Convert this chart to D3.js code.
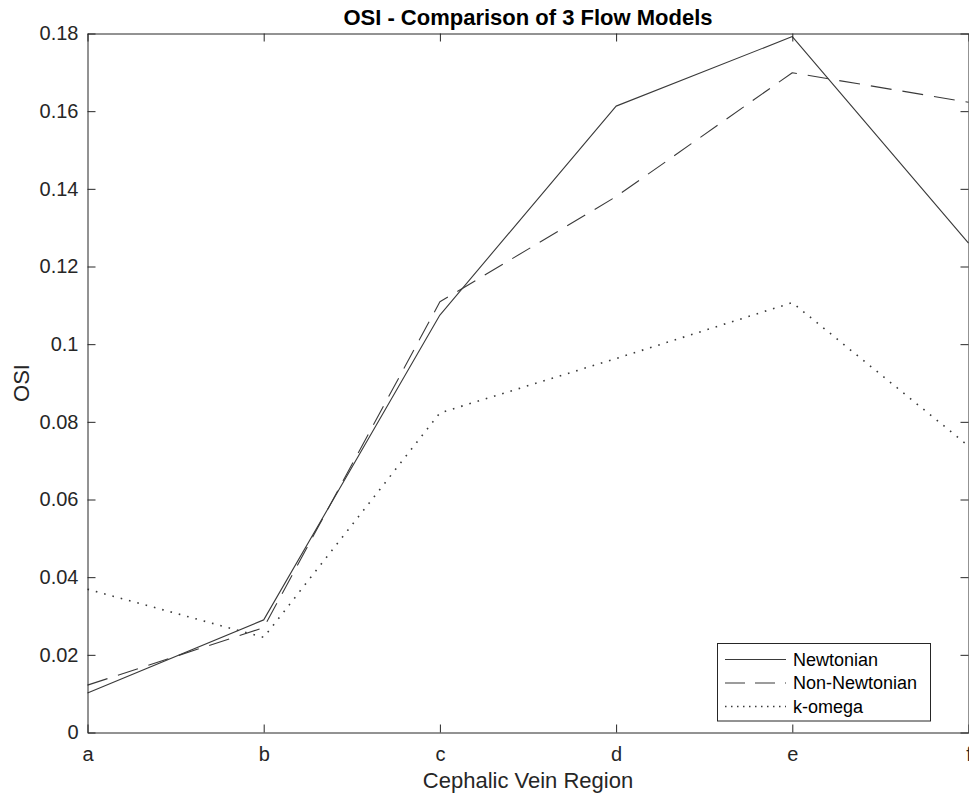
<!DOCTYPE html>
<html>
<head>
<meta charset="utf-8">
<script src="https://cdn.jsdelivr.net/npm/d3@7"></script>
<style>
  html, body { margin: 0; padding: 0; background: #fff; }
  svg { display: block; font-family: "Liberation Sans", Arial, Helvetica, sans-serif; }
</style>
</head>
<body>
<svg id="chart" width="969" height="793"></svg>
<script>
const categories = ["a", "b", "c", "d", "e", "f"];
const newtonian = [0.0102, 0.0290, 0.1075, 0.1613, 0.1792, 0.1260];
const nonNewtonian = [0.0122, 0.0270, 0.1109, 0.1380, 0.1699, 0.1623];
const kOmega = [0.0369, 0.0245, 0.0823, 0.0963, 0.1107, 0.0738];
const yTicks = [0, 0.02, 0.04, 0.06, 0.08, 0.1, 0.12, 0.14, 0.16, 0.18];
const yTickLabels = ["0", "0.02", "0.04", "0.06", "0.08", "0.1", "0.12", "0.14", "0.16", "0.18"];
const seriesNames = ["Newtonian", "Non-Newtonian", "k-omega"];

const svg = d3.select("#chart");
const pLeft = 87.5, pRight = 968.5, pTop = 33.5, pBottom = 732.5;
const axisColor = "#262626";
const lineColor = "#3a3a3a";

const x = d3.scalePoint().domain(categories).range([pLeft, pRight]);
const y = d3.scaleLinear().domain([0, 0.18]).range([pBottom, pTop]);

const series = [
  { name: seriesNames[0], values: newtonian, dash: null, lw: 1.1, ldash: null },
  { name: seriesNames[1], values: nonNewtonian, dash: "21,11", lw: 1.1, ldash: "20,10" },
  { name: seriesNames[2], values: kOmega, dash: "1.6,7", lw: 1.6, ldash: "1.5,4.5" }
];

// lines
const line = d3.line().x((d, i) => x(categories[i])).y(d => y(d));
const plot = svg.append("g");
series.forEach(s => {
  plot.append("path")
    .attr("d", line(s.values))
    .attr("fill", "none")
    .attr("stroke", lineColor)
    .attr("stroke-width", s.lw)
    .attr("stroke-dasharray", s.dash)
    .attr("stroke-linejoin", "round");
});

// axes (box with inward ticks)
const tickLen = 8;
const bottomAxis = d3.axisBottom(x).tickSizeInner(-tickLen).tickSizeOuter(0).tickPadding(14);
const topAxis = d3.axisTop(x).tickSizeInner(-tickLen).tickSizeOuter(0).tickFormat("");
const leftAxis = d3.axisLeft(y).tickValues(yTicks).tickFormat((d, i) => yTickLabels[i])
  .tickSizeInner(-tickLen).tickSizeOuter(0).tickPadding(9);
const rightAxis = d3.axisRight(y).tickValues(yTicks).tickFormat("")
  .tickSizeInner(-tickLen).tickSizeOuter(0);

function style(g) {
  g.select(".domain").attr("stroke", axisColor).attr("stroke-width", 1);
  g.selectAll(".tick line").attr("stroke", axisColor).attr("stroke-width", 1);
  g.selectAll(".tick text").attr("fill", axisColor).attr("font-size", 20)
    .attr("font-family", "'Liberation Sans', Arial, sans-serif");
}
svg.append("g").attr("transform", `translate(0,${pBottom})`).call(bottomAxis).call(style);
svg.append("g").attr("transform", `translate(0,${pTop})`).call(topAxis).call(style);
svg.append("g").attr("transform", `translate(${pLeft},0)`).call(leftAxis).call(style);
svg.append("g").attr("transform", `translate(${pRight},0)`).call(rightAxis).call(style);

// titles
svg.append("text")
  .attr("x", (pLeft + pRight) / 2).attr("y", 25)
  .attr("text-anchor", "middle").attr("font-size", 22).attr("font-weight", "bold")
  .attr("fill", "#000").text("OSI - Comparison of 3 Flow Models");
svg.append("text")
  .attr("x", (pLeft + pRight) / 2).attr("y", 788)
  .attr("text-anchor", "middle").attr("font-size", 22)
  .attr("fill", axisColor).text("Cephalic Vein Region");
svg.append("text")
  .attr("transform", `translate(29,${(pTop + pBottom) / 2}) rotate(-90)`)
  .attr("text-anchor", "middle").attr("font-size", 22)
  .attr("fill", axisColor).text("OSI");

// legend
const lg = svg.append("g");
const lx = 717.5, ly = 643.5, lw = 213, lh = 77.5;
lg.append("rect").attr("x", lx).attr("y", ly).attr("width", lw).attr("height", lh)
  .attr("fill", "#fff").attr("stroke", axisColor).attr("stroke-width", 1);
const rowY = [659.5, 683, 706.5];
series.forEach((s, i) => {
  lg.append("line")
    .attr("x1", 725).attr("x2", 786).attr("y1", rowY[i]).attr("y2", rowY[i])
    .attr("stroke", lineColor)
    .attr("stroke-width", s.lw)
    .attr("stroke-dasharray", s.ldash);
  lg.append("text")
    .attr("x", 793).attr("y", rowY[i]).attr("dy", "0.35em")
    .attr("font-size", 18).attr("fill", "#000").text(s.name);
});
</script>
</body>
</html>
